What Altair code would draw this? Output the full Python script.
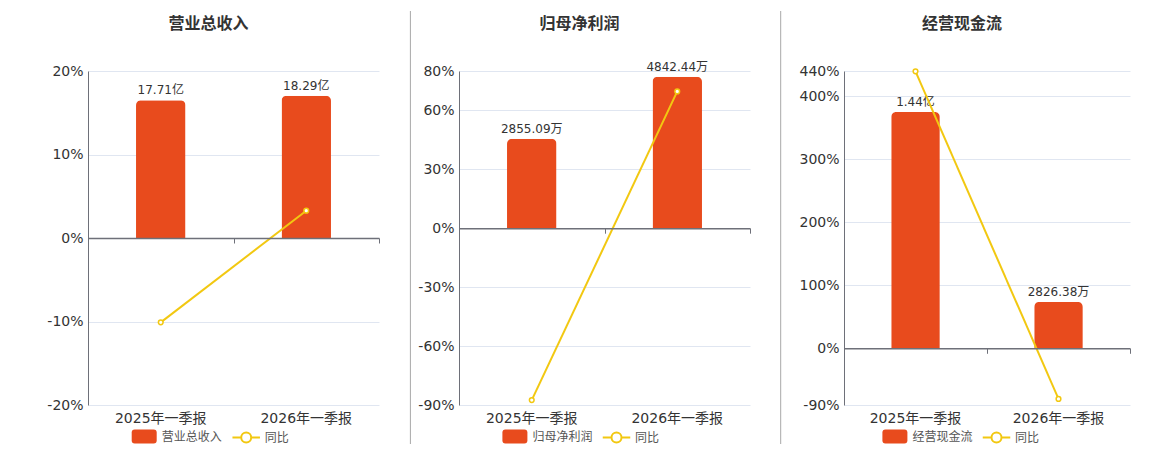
import altair as alt
import pandas as pd

FONT = "DejaVu Sans, Noto Sans CJK SC, sans-serif"
BAR = "#E84B1D"
LINE = "#F2C811"

periods = ["2025年一季报", "2026年一季报"]
titles = ["营业总收入", "归母净利润", "经营现金流"]
# bar values in 万
bar_values = [[177100, 182900], [2855.09, 4842.44], [14400, 2826.38]]
bar_labels = [["17.71亿", "18.29亿"], ["2855.09万", "4842.44万"], ["1.44亿", "2826.38万"]]
yoy = [[-10.1, 3.27], [-87.5, 69.6], [439.5, -80.4]]
pct_ticks = [[-20, -10, 0, 10, 20], [-90, -60, -30, 0, 30, 60, 80], [-90, 0, 100, 200, 300, 400, 440]]
bar_domains = [[-214900, 214900], [-5653, 5025], [-3457, 16900]]

H = 334
widths = [291, 291, 286]
sep_x = [0, -48.6, -63.3]
sep_color = ["#FFFFFF", "#A8A8A8", "#A8A8A8"]
leg_x = [43.7, 43.4, 38.4]
leg2_x = [144.7, 144.0, 139.0]
LEG_LABEL = "#555555"

RECT_PATH = ("M-0.76,-0.56L0.76,-0.56Q1,-0.56 1,-0.32L1,0.32Q1,0.56 0.76,0.56"
             "L-0.76,0.56Q-1,0.56 -1,0.32L-1,-0.32Q-1,-0.56 -0.76,-0.56Z")
LINE_PATH = ("M-1.1,0L-0.4,0M0.4,0L1.1,0M-0.4,0A0.4,0.4 0 1,1 0.4,0"
             "A0.4,0.4 0 1,1 -0.4,0Z")


def panel(i):
    df = pd.DataFrame({
        "period": periods,
        "value": bar_values[i],
        "label": bar_labels[i],
        "yoy": yoy[i],
        "series": titles[i],
        "s2": "同比",
    })
    pmin, pmax = pct_ticks[i][0], pct_ticks[i][-1]
    w = widths[i]
    zero_off = -H * (0 - pmin) / (pmax - pmin)
    base = alt.Chart(df)
    xscale = alt.Scale(paddingInner=0, paddingOuter=0)
    x_lab = alt.X("period:N", sort=periods, scale=xscale,
                  axis=alt.Axis(orient="bottom", title=None, labelAngle=0, domain=False,
                                ticks=False, grid=False, labelFontSize=14, labelColor="#333",
                                labelPadding=6, labelFont=FONT))
    x_zero = alt.X("period:N", sort=periods, scale=xscale,
                   axis=alt.Axis(orient="bottom", title=None, labels=False, domain=True,
                                 domainColor="#6E7079", domainWidth=1.5, ticks=True,
                                 tickColor="#6E7079", tickSize=5, tickBand="extent",
                                 grid=False, offset=zero_off, zindex=1))
    x_none = alt.X("period:N", sort=periods, scale=xscale, axis=None)
    yb = alt.Y("value:Q", scale=alt.Scale(domain=bar_domains[i], nice=False, zero=False), axis=None)
    yl_scale = alt.Scale(domain=[pmin, pmax], nice=False, zero=False)

    bars = base.mark_bar(width=alt.RelativeBandSize(0.34), cornerRadiusTopLeft=5,
                         cornerRadiusTopRight=5).encode(
        x=x_lab,
        y=yb,
        color=alt.Color("series:N", scale=alt.Scale(domain=[titles[i]], range=[BAR]),
                        legend=alt.Legend(orient="none", legendX=leg_x[i], legendY=353,
                                          direction="horizontal", title=None,
                                          labelFontSize=12, labelColor=LEG_LABEL, labelFont=FONT,
                                          symbolSize=625, symbolType=RECT_PATH, labelOffset=5,
                                          padding=0, symbolStrokeWidth=0)),
    )
    text = base.mark_text(baseline="alphabetic", dy=-6, fontSize=12, color="#333",
                          font=FONT).encode(x=x_none, y=yb, text="label:N")
    line = base.mark_line(strokeWidth=2).encode(
        x=x_zero,
        y=alt.Y("yoy:Q", scale=yl_scale,
                axis=alt.Axis(orient="left", title=None, values=pct_ticks[i],
                              labelExpr="datum.value + '%'", grid=True, gridColor="#E0E6F1",
                              domain=True, domainColor="#6E7079", ticks=False,
                              labelFontSize=14, labelColor="#333", labelPadding=5,
                              labelFont=FONT)),
        stroke=alt.Stroke("s2:N", scale=alt.Scale(domain=["同比"], range=[LINE]),
                          legend=alt.Legend(orient="none", legendX=leg2_x[i], legendY=353,
                                            direction="horizontal", title=None,
                                            labelFontSize=12, labelColor=LEG_LABEL, labelFont=FONT,
                                            symbolSize=625, symbolType=LINE_PATH, labelOffset=5,
                                            padding=0, symbolStrokeWidth=2,
                                            symbolFillColor="white")),
    )
    points = base.mark_point(shape="circle", filled=True, fill="white", stroke=LINE,
                             strokeWidth=1.5, size=22, opacity=1).encode(
        x=x_none, y=alt.Y("yoy:Q", scale=yl_scale, axis=None))
    # panel separator (white / invisible on the first panel, keeps panel tops aligned)
    rule = alt.Chart(pd.DataFrame({"k": [0]})).mark_rule(
        color=sep_color[i], strokeWidth=1).encode(
        x=alt.value(sep_x[i]), y=alt.value(-60), y2=alt.value(373 if i else -59))
    layers = [rule, bars, text, line, points]
    return alt.layer(*layers).resolve_scale(y="independent").resolve_axis(
        x="independent", y="independent").properties(
        width=w, height=H,
        title=alt.TitleParams(text=titles[i], fontSize=16, fontWeight="bold", color="#333",
                              font=FONT, anchor="middle", dx=-25, offset=-21, frame="group"))


chart = alt.hconcat(panel(0), panel(1), panel(2), spacing=29).resolve_scale(
    color="independent", stroke="independent").properties(
    padding={"left": 38, "top": 2, "right": 5, "bottom": 5}
).configure_view(strokeWidth=0)

chart.save("out.html", embed_options={"renderer": "svg", "actions": False})
